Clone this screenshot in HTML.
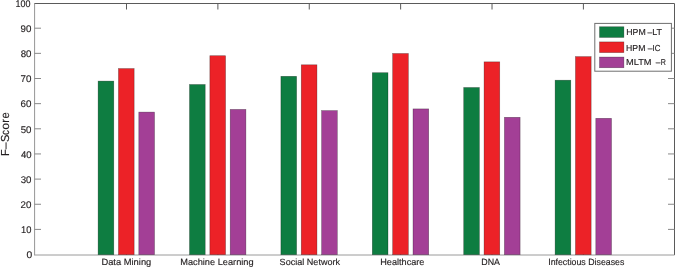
<!DOCTYPE html><html><head><meta charset="utf-8"><style>html,body{margin:0;padding:0;background:#fff;width:675px;height:267px;overflow:hidden}svg{display:block;will-change:transform}text{text-rendering:geometricPrecision;font-family:"Liberation Sans",sans-serif;fill:#231f20;stroke:#231f20;stroke-width:0.15}</style></head><body>
<svg width="675" height="267" viewBox="0 0 675 267">
<g stroke="#6e6e6e" stroke-width="1" fill="none">
<path d="M34.0 3.5H674.5V255.05" stroke="#5a5a5a"/>
<path d="M34.6 3.0V255.0" stroke="#959595"/>
<path d="M34.0 255.0H674.5" stroke="#9a9a9a"/>
<path d="M34.5 229.4h6.5M674.5 229.4h-6.5" stroke="#888888"/>
<path d="M34.5 204.25h6.5M674.5 204.25h-6.5" stroke="#888888"/>
<path d="M34.5 179.1h6.5M674.5 179.1h-6.5" stroke="#888888"/>
<path d="M34.5 153.95h6.5M674.5 153.95h-6.5" stroke="#888888"/>
<path d="M34.5 128.8h6.5M674.5 128.8h-6.5" stroke="#888888"/>
<path d="M34.5 103.65h6.5M674.5 103.65h-6.5" stroke="#888888"/>
<path d="M34.5 78.5h6.5M674.5 78.5h-6.5" stroke="#888888"/>
<path d="M34.5 53.35h6.5M674.5 53.35h-6.5" stroke="#888888"/>
<path d="M34.5 28.2h6.5M674.5 28.2h-6.5" stroke="#888888"/>
<path d="M126.5 3.5v6M126.5 254.55v-6" stroke="#5a5a5a"/>
<path d="M217.88 3.5v6M217.88 254.55v-6" stroke="#5a5a5a"/>
<path d="M309.26 3.5v6M309.26 254.55v-6" stroke="#5a5a5a"/>
<path d="M400.64 3.5v6M400.64 254.55v-6" stroke="#5a5a5a"/>
<path d="M492.02 3.5v6M492.02 254.55v-6" stroke="#5a5a5a"/>
<path d="M583.4 3.5v6M583.4 254.55v-6" stroke="#5a5a5a"/>
</g>
<g stroke="rgba(0,0,0,0.42)" stroke-width="0.6">
<rect x="98.10" y="81.10" width="15.7" height="173.60" fill="#0e7d41"/>
<rect x="118.45" y="68.55" width="15.7" height="186.15" fill="#ec2227"/>
<rect x="138.80" y="112.10" width="15.7" height="142.60" fill="#a33f96"/>
<rect x="189.50" y="84.50" width="15.7" height="170.20" fill="#0e7d41"/>
<rect x="209.85" y="55.70" width="15.7" height="199.00" fill="#ec2227"/>
<rect x="230.20" y="109.40" width="15.7" height="145.30" fill="#a33f96"/>
<rect x="280.90" y="76.30" width="15.7" height="178.40" fill="#0e7d41"/>
<rect x="301.25" y="64.80" width="15.7" height="189.90" fill="#ec2227"/>
<rect x="321.60" y="110.60" width="15.7" height="144.10" fill="#a33f96"/>
<rect x="372.30" y="72.70" width="15.7" height="182.00" fill="#0e7d41"/>
<rect x="392.65" y="53.50" width="15.7" height="201.20" fill="#ec2227"/>
<rect x="413.00" y="108.90" width="15.7" height="145.80" fill="#a33f96"/>
<rect x="463.70" y="87.50" width="15.7" height="167.20" fill="#0e7d41"/>
<rect x="484.05" y="61.85" width="15.7" height="192.85" fill="#ec2227"/>
<rect x="504.40" y="117.30" width="15.7" height="137.40" fill="#a33f96"/>
<rect x="555.10" y="80.20" width="15.7" height="174.50" fill="#0e7d41"/>
<rect x="575.45" y="56.60" width="15.7" height="198.10" fill="#ec2227"/>
<rect x="595.80" y="118.30" width="15.7" height="136.40" fill="#a33f96"/>
</g>
<text x="26.60" y="258.39" font-size="9.7" textLength="5.70" lengthAdjust="spacingAndGlyphs">0</text>
<text x="20.99" y="233.24" font-size="9.7" textLength="10.37" lengthAdjust="spacingAndGlyphs">10</text>
<text x="20.61" y="208.09" font-size="9.7" textLength="10.87" lengthAdjust="spacingAndGlyphs">20</text>
<text x="20.73" y="182.94" font-size="9.7" textLength="10.75" lengthAdjust="spacingAndGlyphs">30</text>
<text x="20.88" y="157.79" font-size="9.7" textLength="10.59" lengthAdjust="spacingAndGlyphs">40</text>
<text x="20.71" y="132.64" font-size="9.7" textLength="10.77" lengthAdjust="spacingAndGlyphs">50</text>
<text x="20.60" y="107.49" font-size="9.7" textLength="10.88" lengthAdjust="spacingAndGlyphs">60</text>
<text x="20.60" y="82.34" font-size="9.7" textLength="10.88" lengthAdjust="spacingAndGlyphs">70</text>
<text x="20.68" y="57.19" font-size="9.7" textLength="10.80" lengthAdjust="spacingAndGlyphs">80</text>
<text x="20.64" y="32.04" font-size="9.7" textLength="10.84" lengthAdjust="spacingAndGlyphs">90</text>
<text x="15.62" y="7.29" font-size="9.7" textLength="14.93" lengthAdjust="spacingAndGlyphs">100</text>
<text x="101.43" y="265.00" font-size="9.0" textLength="49.87" lengthAdjust="spacingAndGlyphs">Data Mining</text>
<text x="180.24" y="265.00" font-size="9.0" textLength="73.35" lengthAdjust="spacingAndGlyphs">Machine Learning</text>
<text x="279.59" y="265.00" font-size="9.0" textLength="60.50" lengthAdjust="spacingAndGlyphs">Social Network</text>
<text x="380.25" y="265.00" font-size="9.0" textLength="44.15" lengthAdjust="spacingAndGlyphs">Healthcare</text>
<text x="481.27" y="265.00" font-size="9.0" textLength="18.75" lengthAdjust="spacingAndGlyphs">DNA</text>
<text x="548.19" y="265.00" font-size="9.0" textLength="76.13" lengthAdjust="spacingAndGlyphs">Infectious Diseases</text>
<g transform="translate(8.5 0) rotate(-90)">
<text x="-155.91" y="0" font-size="11.6" textLength="6.75" lengthAdjust="spacingAndGlyphs">F</text>
<text x="-149.20" y="0" font-size="11.6" textLength="6.71" lengthAdjust="spacingAndGlyphs">–</text>
<text x="-142.10" y="0" font-size="11.6" textLength="7.42" lengthAdjust="spacingAndGlyphs">S</text>
<text x="-134.92" y="0" font-size="11.6" textLength="4.99" lengthAdjust="spacingAndGlyphs">c</text>
<text x="-129.82" y="0" font-size="11.6" textLength="6.83" lengthAdjust="spacingAndGlyphs">o</text>
<text x="-122.84" y="0" font-size="11.6" textLength="3.73" lengthAdjust="spacingAndGlyphs">r</text>
<text x="-118.58" y="0" font-size="11.6" textLength="6.28" lengthAdjust="spacingAndGlyphs">e</text>
</g>
<rect x="594.8" y="23.4" width="76.60" height="47.80" fill="#fff" stroke="#6e6e6e" stroke-width="1"/>
<rect x="599.5" y="26.75" width="24.4" height="10.7" fill="#0e7d41" stroke="rgba(0,0,0,0.42)" stroke-width="0.6"/>
<text x="626.28" y="34.95" font-size="8.7" textLength="19.43" lengthAdjust="spacingAndGlyphs">HPM</text>
<text x="647.60" y="34.95" font-size="8.7" textLength="4.70" lengthAdjust="spacingAndGlyphs">–</text>
<text x="652.31" y="34.95" font-size="8.7" textLength="9.78" lengthAdjust="spacingAndGlyphs">LT</text>
<rect x="599.5" y="41.9" width="24.4" height="10.7" fill="#ec2227" stroke="rgba(0,0,0,0.42)" stroke-width="0.6"/>
<text x="626.09" y="50.60" font-size="8.7" textLength="19.33" lengthAdjust="spacingAndGlyphs">HPM</text>
<text x="647.80" y="50.60" font-size="8.7" textLength="4.70" lengthAdjust="spacingAndGlyphs">–</text>
<text x="652.58" y="50.60" font-size="8.7" textLength="7.82" lengthAdjust="spacingAndGlyphs">IC</text>
<rect x="599.5" y="57.05" width="24.4" height="10.7" fill="#a33f96" stroke="rgba(0,0,0,0.42)" stroke-width="0.6"/>
<text x="626.06" y="65.20" font-size="8.7" textLength="25.48" lengthAdjust="spacingAndGlyphs">MLTM</text>
<text x="655.80" y="65.20" font-size="8.7" textLength="4.60" lengthAdjust="spacingAndGlyphs">–</text>
<text x="660.82" y="65.20" font-size="8.7" textLength="5.11" lengthAdjust="spacingAndGlyphs">R</text>
</svg></body></html>
